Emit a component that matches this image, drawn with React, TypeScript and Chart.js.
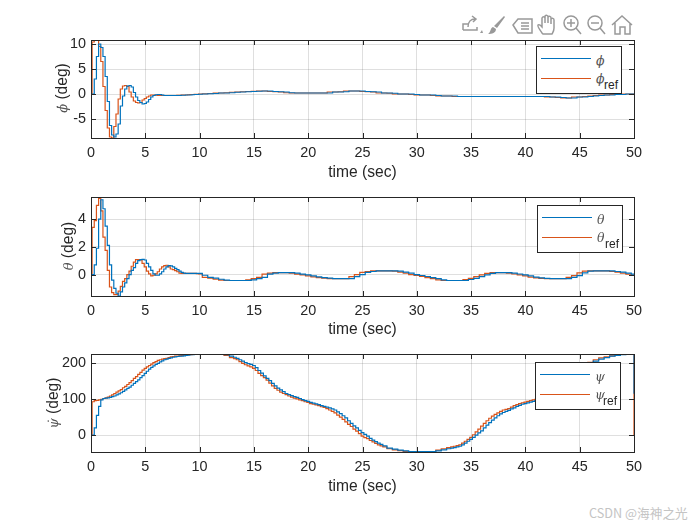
import React, { useEffect, useRef } from 'react';
import { Chart, registerables } from 'chart.js';

Chart.register(...registerables);

const FONT = '"Liberation Sans", Arial, sans-serif';
const INK = '#262626';
const BLUE = '#0072BD';
const ORANGE = '#D95319';

const times = [
  0, 0.2, 0.4, 0.6, 0.8, 1, 1.2, 1.4, 1.6, 1.8,
  2, 2.2, 2.4, 2.6, 2.8, 3, 3.2, 3.4, 3.6, 3.8,
  4, 4.2, 4.4, 4.6, 4.8, 5, 5.2, 5.4, 5.6, 5.8,
  6, 6.2, 6.4, 6.6, 6.8, 7, 7.2, 7.4, 7.6, 7.8,
  8, 8.2, 8.4, 8.6, 8.8, 9, 9.2, 9.4, 9.6, 9.8,
  10,
  10.5, 11, 11.5, 12, 12.5, 13, 13.5, 14, 14.5, 15,
  15.5, 16, 16.5, 17, 17.5, 18, 18.5, 19, 19.5, 20,
  20.5, 21, 21.5, 22, 22.5, 23, 23.5, 24, 24.5, 25,
  25.5, 26, 26.5, 27, 27.5, 28, 28.5, 29, 29.5, 30,
  30.5, 31, 31.5, 32, 32.5, 33, 33.5, 34, 34.5, 35,
  35.5, 36, 36.5, 37, 37.5, 38, 38.5, 39, 39.5, 40,
  40.5, 41, 41.5, 42, 42.5, 43, 43.5, 44, 44.5, 45,
  45.5, 46, 46.5, 47, 47.5, 48, 48.5, 49, 49.5, 50,
];

// psi is read finer on its slopes, and ends on a jump at t = 50
const psiTimes = [
  0, 0.2, 0.4, 0.6, 0.8, 1, 1.2, 1.4, 1.6, 1.8,
  2, 2.2, 2.4, 2.6, 2.8, 3, 3.2, 3.4, 3.6, 3.8,
  4, 4.2, 4.4, 4.6, 4.8, 5, 5.2, 5.4, 5.6, 5.8,
  6, 6.2, 6.4, 6.6, 6.8, 7, 7.2, 7.4, 7.6, 7.8,
  8, 8.2, 8.4, 8.6, 8.8, 9, 9.2, 9.4, 9.6, 9.8,
  10,
  10.5, 11, 11.5, 12, 12.5,
  13, 13.25, 13.5, 13.75, 14, 14.25, 14.5, 14.75,
  15, 15.25, 15.5, 15.75, 16, 16.25, 16.5, 16.75,
  17, 17.25, 17.5, 17.75, 18, 18.25, 18.5, 18.75,
  19, 19.25, 19.5, 19.75, 20, 20.25, 20.5, 20.75,
  21, 21.25, 21.5, 21.75, 22, 22.25, 22.5, 22.75,
  23, 23.25, 23.5, 23.75, 24, 24.25, 24.5, 24.75,
  25, 25.25, 25.5, 25.75, 26, 26.25, 26.5, 26.75,
  27,
  27.5, 28, 28.5, 29, 29.5, 30, 30.5, 31, 31.5, 32, 32.5,
  33, 33.25, 33.5, 33.75, 34, 34.25, 34.5, 34.75,
  35, 35.25, 35.5, 35.75, 36, 36.25, 36.5, 36.75,
  37, 37.25, 37.5, 37.75, 38, 38.25, 38.5, 38.75,
  39, 39.25, 39.5, 39.75, 40, 40.25, 40.5, 40.75,
  41,
  41.5, 42, 42.5, 43, 43.5, 44, 44.5, 45, 45.5,
  46, 46.5, 47, 47.5, 48, 48.5, 49, 49.5, 50,
  50,
];

const phi = [
  0, 0, 3, 7.5, 10, 9.3, 7.5, 3.5, -1.5, -6.3,
  -8.2, -8.6, -8, -6, -2.4, -0.4, 1, 1.6, 1.7, 1.4,
  0.3, -0.6, -1.3, -1.7, -2, -1.9, -1.6, -1.1, -0.6, -0.3,
  -0.15, -0.1, -0.1, -0.2, -0.3, -0.3, -0.3, -0.3, -0.3, -0.3,
  -0.3, -0.3, -0.25, -0.25, -0.2, -0.2, -0.2, -0.15, -0.1, -0.1,
  -0.05,
  0, 0.05, 0.1, 0.2, 0.2, 0.25, 0.35, 0.4, 0.45, 0.5,
  0.55, 0.6, 0.6, 0.5, 0.45, 0.4, 0.25, 0.2, 0.2, 0.2,
  0.2, 0.2, 0.2, 0.2, 0.4, 0.4, 0.45, 0.6, 0.6, 0.6,
  0.5, 0.45, 0.4, 0.2, 0.2, 0.15, 0, 0, 0, -0.1,
  -0.2, -0.2, -0.2, -0.3, -0.4, -0.4, -0.4, -0.5, -0.5, -0.5,
  -0.5, -0.5, -0.5, -0.5, -0.5, -0.5, -0.5, -0.5, -0.5, -0.5,
  -0.5, -0.5, -0.5, -0.5, -0.6, -0.6, -0.7, -0.8, -0.8, -0.6,
  -0.6, -0.5, -0.4, -0.3, -0.2, -0.2, -0.1, -0.1, 0, 0,
];
const phiRef = [
  0, 10.4, 10.7, 10.7, 9.5, 6.5, 1.5, -3.3, -6.8, -8.6,
  -8.8, -6.5, -4, -1, 1, 1.6, 1.7, 1.5, 0.4, -0.6,
  -1.4, -1.7, -1.8, -1.7, -1.2, -0.9, -0.6, -0.4, -0.2, -0.2,
  -0.25, -0.3, -0.3, -0.3, -0.3, -0.3, -0.3, -0.3, -0.3, -0.3,
  -0.25, -0.25, -0.2, -0.2, -0.2, -0.15, -0.1, -0.1, -0.05, -0.05,
  0,
  0.05, 0.1, 0.2, 0.2, 0.25, 0.35, 0.4, 0.45, 0.5, 0.55,
  0.6, 0.6, 0.5, 0.45, 0.4, 0.25, 0.2, 0.2, 0.2, 0.2,
  0.2, 0.2, 0.2, 0.4, 0.4, 0.45, 0.6, 0.6, 0.6, 0.5,
  0.45, 0.4, 0.2, 0.2, 0.15, 0, 0, 0, -0.1, -0.2,
  -0.2, -0.2, -0.3, -0.4, -0.4, -0.4, -0.5, -0.5, -0.5, -0.5,
  -0.5, -0.5, -0.5, -0.5, -0.5, -0.5, -0.5, -0.5, -0.5, -0.5,
  -0.5, -0.5, -0.5, -0.6, -0.6, -0.7, -0.8, -0.8, -0.6, -0.6,
  -0.5, -0.4, -0.3, -0.2, -0.2, -0.1, -0.1, 0, 0, 0,
];

const theta = [
  0, 0, 0.7, 1.9, 4, 5.4, 4.75, 3.5, 2.1, 0.7,
  -0.4, -1, -1.35, -1.55, -1.25, -0.9, -0.6, -0.3, 0, 0.3,
  0.5, 0.8, 1, 1.08, 1.1, 1.05, 0.8, 0.55, 0.3, 0.05,
  -0.05, -0.05, 0.05, 0.2, 0.4, 0.55, 0.65, 0.62, 0.55, 0.45,
  0.35, 0.25, 0.15, 0.1, 0.08, 0.08, 0.08, 0.08, 0.08, 0.08,
  0.08,
  -0.05, -0.2, -0.26, -0.34, -0.4, -0.43, -0.43, -0.43, -0.43, -0.38,
  -0.3, -0.2, 0.03, 0.1, 0.14, 0.14, 0.14, 0.1, 0.03, -0.03,
  -0.1, -0.17, -0.22, -0.26, -0.29, -0.29, -0.29, -0.29, -0.15, 0,
  0.15, 0.22, 0.26, 0.26, 0.26, 0.26, 0.24, 0.18, 0.1, 0,
  -0.07, -0.14, -0.22, -0.3, -0.38, -0.43, -0.43, -0.43, -0.43, -0.36,
  -0.28, -0.15, -0.02, 0.08, 0.14, 0.14, 0.14, 0.1, 0.04, -0.02,
  -0.1, -0.18, -0.24, -0.28, -0.29, -0.29, -0.29, -0.29, -0.2, -0.08,
  0.12, 0.24, 0.26, 0.26, 0.26, 0.26, 0.22, 0.17, 0.1, 0.03,
];
const thetaRef = [
  0, 3.4, 3.9, 5, 5.5, 4.6, 2.7, 1.75, 0.3, -0.9,
  -1.3, -1.45, -1.45, -1.2, -0.85, -0.5, -0.3, 0, 0.25, 0.6,
  0.9, 1.08, 1.08, 1.05, 0.8, 0.55, 0.25, 0.05, -0.1, -0.05,
  0.05, 0.2, 0.4, 0.55, 0.65, 0.67, 0.55, 0.4, 0.35, 0.28,
  0.2, 0.1, 0.08, 0.08, 0.08, 0.08, 0.08, 0.08, 0.08, 0.06,
  0.05,
  -0.2, -0.26, -0.34, -0.4, -0.43, -0.43, -0.43, -0.43, -0.38, -0.3,
  -0.2, 0.03, 0.1, 0.14, 0.14, 0.14, 0.1, 0.03, -0.03, -0.1,
  -0.17, -0.22, -0.26, -0.29, -0.29, -0.29, -0.29, -0.15, 0, 0.15,
  0.22, 0.26, 0.26, 0.26, 0.26, 0.24, 0.18, 0.1, 0, -0.07,
  -0.14, -0.22, -0.3, -0.38, -0.43, -0.43, -0.43, -0.43, -0.36, -0.28,
  -0.15, -0.02, 0.08, 0.14, 0.14, 0.14, 0.1, 0.04, -0.02, -0.1,
  -0.18, -0.24, -0.28, -0.29, -0.29, -0.29, -0.29, -0.2, -0.08, 0.12,
  0.24, 0.26, 0.26, 0.26, 0.26, 0.22, 0.17, 0.1, 0.03, -0.05,
];

const psi = [
  0, 0, 20, 55, 80, 98, 102, 103, 104, 105,
  107, 109, 112, 115, 118, 122, 126, 130, 134, 139,
  144, 149, 154, 160, 166, 172, 178, 184, 189, 193,
  197, 200, 204, 207, 210, 212, 214, 215, 217, 218,
  219, 220, 220, 221, 222, 223, 224, 224, 225, 225,
  225,
  225, 225, 225, 225, 224,
  220, 217, 214, 210, 206, 202, 199, 197,
  194, 188, 180, 173, 165, 158, 152, 144,
  137, 131, 126, 121, 116, 113, 110, 107,
  105, 102, 99, 96, 94, 91, 89, 87,
  85, 82, 80, 78, 76, 73, 70, 65,
  60, 54, 48, 40, 33, 26, 20, 13,
  7, 2, -3, -9, -14, -18, -22, -26,
  -30,
  -36, -39, -42, -44, -46, -46, -46, -46, -46, -44, -41,
  -38, -36, -35, -33, -31, -27, -22, -17,
  -12, -6, 0, 6, 12, 20, 28, 35,
  42, 48, 54, 59, 63, 66, 69, 73,
  76, 80, 83, 86, 88, 90, 92, 94,
  96,
  100, 106, 113, 122, 134, 146, 158, 172, 185,
  197, 206, 212, 216, 220, 222, 224, 225, 225,
  115,
];
const psiRef = [
  0, 93, 96, 97, 98, 100, 102, 104, 106, 109,
  112, 116, 120, 123, 127, 132, 136, 141, 146, 152,
  158, 163, 169, 175, 181, 186, 190, 194, 198, 202,
  205, 208, 210, 212, 213, 214, 216, 218, 219, 220,
  220, 221, 222, 223, 223, 224, 224, 225, 225, 225,
  225,
  225, 225, 225, 225, 222,
  216, 213, 210, 205, 200, 196, 193, 190,
  186, 180, 172, 166, 160, 153, 145, 137,
  130, 125, 120, 116, 113, 109, 106, 103,
  101, 98, 96, 93, 91, 88, 86, 84,
  82, 79, 77, 74, 70, 66, 62, 56,
  50, 44, 37, 30, 24, 17, 11, 4,
  -3, -7, -10, -15, -19, -23, -27, -30,
  -33,
  -38, -41, -43, -45, -46, -46, -46, -46, -46, -42, -38,
  -35, -33, -31, -29, -27, -22, -17, -12,
  -6, 1, 9, 17, 25, 33, 40, 47,
  53, 58, 62, 66, 70, 72, 74, 78,
  82, 85, 88, 90, 92, 94, 96, 98,
  100,
  105, 110, 119, 128, 140, 152, 165, 178, 191,
  203, 210, 215, 218, 221, 224, 225, 225, 225,
  0,
];

const xTicks = [0, 5, 10, 15, 20, 25, 30, 35, 40, 45, 50];

// box + inward ticks, MATLAB style
const boxPlugin = {
  id: 'box',
  afterDraw(chart: any) {
    const { ctx, chartArea: a, scales } = chart;
    ctx.save();
    ctx.strokeStyle = INK;
    ctx.lineWidth = 1;
    ctx.beginPath();
    for (const t of scales.x.ticks) {
      const px = Math.round(scales.x.getPixelForValue(t.value)) + 0.5;
      ctx.moveTo(px, a.top);
      ctx.lineTo(px, a.top + 5);
      ctx.moveTo(px, a.bottom);
      ctx.lineTo(px, a.bottom - 5);
    }
    for (const t of scales.y.ticks) {
      const py = Math.round(scales.y.getPixelForValue(t.value)) + 0.5;
      ctx.moveTo(a.left, py);
      ctx.lineTo(a.left + 5, py);
      ctx.moveTo(a.right, py);
      ctx.lineTo(a.right - 5, py);
    }
    ctx.stroke();
    ctx.strokeRect(Math.round(a.left) + 0.5, Math.round(a.top) + 0.5, Math.round(a.width), Math.round(a.height));
    ctx.restore();
  },
};

interface PlotProps {
  top: number;
  height: number;
  padTop: number;
  areaHeight: number;
  xs: number[];
  actual: number[];
  reference: number[];
  actualName: string;
  refName: string;
  yMin: number;
  yMax: number;
  yStep: number;
}

function Plot({ top, height, padTop, areaHeight, xs, actual, reference, actualName, refName, yMin, yMax, yStep }: PlotProps) {
  const canvasRef = useRef<HTMLCanvasElement>(null);

  useEffect(() => {
    if (!canvasRef.current) return;
    const line = (label: string, values: number[], color: string) => ({
      label,
      data: xs.map((x, i) => ({ x, y: values[i] })),
      borderColor: color,
      borderWidth: 1.2,
      pointRadius: 0,
      stepped: 'middle' as const,
    });
    const chart = new Chart(canvasRef.current, {
      type: 'line',
      data: { datasets: [line(actualName, actual, BLUE), line(refName, reference, ORANGE)] },
      plugins: [boxPlugin],
      options: {
        animation: false,
        responsive: false,
        layout: { padding: { top: padTop, right: 66 } },
        plugins: { legend: { display: false }, tooltip: { enabled: false } },
        scales: {
          x: {
            type: 'linear',
            min: 0,
            max: 50,
            afterBuildTicks: (scale: any) => {
              scale.ticks = xTicks.map((value) => ({ value }));
            },
            afterFit: (scale: any) => {
              scale.height = height - padTop - areaHeight;
              scale.paddingLeft = 0;
              scale.paddingRight = 0;
            },
            grid: { color: 'rgba(38,38,38,0.15)', drawTicks: false },
            border: { display: false },
            ticks: { color: INK, font: { family: FONT, size: 14.4 }, padding: 6, maxRotation: 0 },
            title: {
              display: true,
              text: 'time (sec)',
              color: INK,
              font: { family: FONT, size: 15.6 },
              padding: { top: 1, bottom: 0 },
            },
          },
          y: {
            min: yMin,
            max: yMax,
            afterFit: (scale: any) => {
              scale.width = 91;
              scale.paddingTop = 0;
              scale.paddingBottom = 0;
            },
            grid: { color: 'rgba(38,38,38,0.15)', drawTicks: false },
            border: { display: false },
            ticks: {
              stepSize: yStep,
              includeBounds: false,
              color: INK,
              font: { family: FONT, size: 14.4 },
              padding: 5,
            },
          },
        },
      },
    });
    return () => chart.destroy();
  }, []);

  return (
    <canvas
      ref={canvasRef}
      width={700}
      height={height}
      style={{ position: 'absolute', left: 0, top, width: 700, height }}
    />
  );
}

function YLabel({ x, y, symbol }: { x: number; y: number; symbol: string }) {
  return (
    <div
      style={{
        position: 'absolute',
        left: x,
        top: y,
        transform: 'translate(-50%, -50%) rotate(-90deg)',
        whiteSpace: 'nowrap',
        font: `15.6px ${FONT}`,
        color: INK,
      }}
    >
      <i style={{ fontFamily: '"DejaVu Serif", serif', fontSize: 13, color: '#555' }}>{symbol}</i> (deg)
    </div>
  );
}

function LegendBox({ left, top, symbol }: { left: number; top: number; symbol: string }) {
  const symbolStyle: React.CSSProperties = {
    position: 'absolute',
    left: 59,
    font: 'italic 12.5px "DejaVu Serif", serif',
    color: '#555',
  };
  return (
    <div
      style={{
        position: 'absolute',
        left,
        top,
        width: 84,
        height: 46,
        background: '#fff',
        border: `1px solid ${INK}`,
      }}
    >
      <div style={{ position: 'absolute', left: 4, top: 11, width: 50, height: 1, background: BLUE }} />
      <div style={{ position: 'absolute', left: 4, top: 31, width: 50, height: 1, background: ORANGE }} />
      <span style={{ ...symbolStyle, top: 6 }}>{symbol}</span>
      <span style={{ ...symbolStyle, top: 24 }}>
        {symbol}
        <span
          style={{
            position: 'absolute',
            left: 8,
            top: 7,
            font: `12px ${FONT}`,
            color: INK,
          }}
        >
          ref
        </span>
      </span>
    </div>
  );
}

// figure toolbar, hand-drawn outline icons
function Toolbar() {
  const stroke = { fill: 'none', stroke: '#999', strokeWidth: 1.5 };
  return (
    <svg width={180} height={24} style={{ position: 'absolute', left: 458, top: 13 }}>
      <g {...stroke}>
        <path d="M5 17V11H10M5 17H19V14" />
        <path d="M10 14C10 9 13 6 17 6M14 3L18 6L15 9" />
      </g>
      <path d="M22 20L24 17L25 20Z" fill="#999" />
      <path d="M46 3L36 13L39 15L47 4Z M35 14C32 15 33 19 30 21C34 21 38 20 38 16Z" fill="#999" />
      <g {...stroke}>
        <path d="M55 12L60 6H74V20H60Z" />
        <path d="M63 10H71M63 13H71M63 16H71" />
      </g>
      <g {...stroke}>
        <path d="M84 20C82 17 79 13 80 12C82 11 83 13 84 14V5C85 3 87 4 87 5V10V3C88 2 90 2 90 4V10V4C91 3 93 3 93 5V11V6C94 5 96 5 96 7V15C96 18 95 19 94 21H85Z" />
      </g>
      <g {...stroke}>
        <circle cx={113} cy={10} r={7} />
        <path d="M118 15L123 21M109 10H117M113 6V14" />
      </g>
      <g {...stroke}>
        <circle cx={137} cy={10} r={7} />
        <path d="M142 15L147 21M133 10H141" />
      </g>
      <g {...stroke}>
        <path d="M154 12L164 3L174 12M157 10V21H162V14H167V21H172V10" />
      </g>
    </svg>
  );
}

export default function App() {
  useEffect(() => {
    document.body.style.margin = '0';
  }, []);

  return (
    <div style={{ position: 'absolute', left: 0, top: 0, width: 700, height: 525, overflow: 'hidden', background: '#fff' }}>
      <Plot top={0} height={182} padTop={40} areaHeight={98} xs={times} actual={phi} reference={phiRef} actualName="phi" refName="phi_ref" yMin={-8.8} yMax={10.8} yStep={5} />
      <Plot top={185} height={154} padTop={12} areaHeight={99} xs={times} actual={theta} reference={thetaRef} actualName="theta" refName="theta_ref" yMin={-1.55} yMax={5.6} yStep={2} />
      <Plot top={345} height={151} padTop={9} areaHeight={98} xs={psiTimes} actual={psi} reference={psiRef} actualName="psi" refName="psi_ref" yMin={-47} yMax={226} yStep={100} />
      <YLabel x={62} y={88} symbol={'\u03D5\u0307'} />
      <YLabel x={68} y={246} symbol={'\u03B8'} />
      <YLabel x={53} y={403} symbol={'\u03C8\u0307'} />
      <LegendBox left={536} top={46} symbol={'\u03D5'} />
      <LegendBox left={537} top={205} symbol={'\u03B8'} />
      <LegendBox left={535} top={362} symbol={'\u03C8'} />
      <Toolbar />
      <div
        style={{
          position: 'absolute',
          left: 589,
          top: 503,
          font: '12.7px "Noto Sans CJK SC", sans-serif',
          color: '#c4c4c4',
          whiteSpace: 'nowrap',
        }}
      >
        CSDN @海神之光
      </div>
    </div>
  );
}
